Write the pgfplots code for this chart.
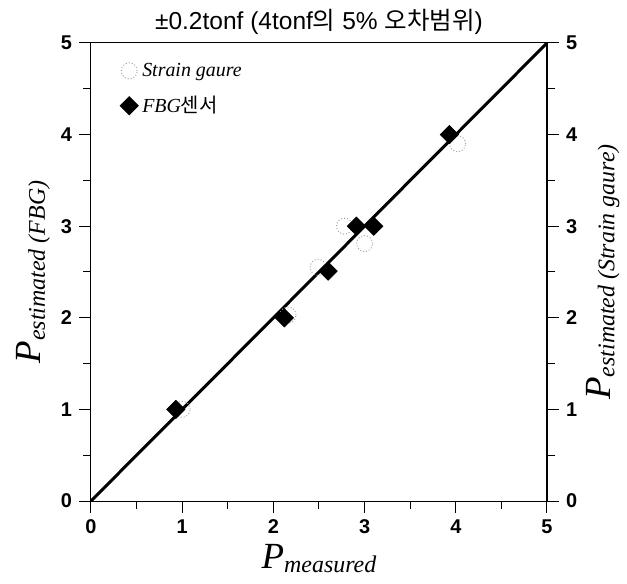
\documentclass[border=0pt]{standalone}
\usepackage{fontspec}
\setmainfont{Liberation Serif}
\setsansfont{Liberation Sans}
\newfontfamily\kr{Noto Sans CJK KR}
\usepackage{pgfplots}
\pgfplotsset{compat=1.18}
\usetikzlibrary{calc}

% data
\pgfplotstableread{
x    y
0.93 1.00
2.12 2.00
2.60 2.51
2.91 3.00
3.10 3.00
3.93 4.00
}\fbg
\pgfplotstableread{
x    y
1.00 1.00
2.16 2.03
2.49 2.55
2.78 3.00
3.00 2.81
4.02 3.90
}\strain

\newcommand{\Plab}[1]{{\fontsize{18.5}{18.5}\selectfont\itshape P}\raisebox{-0.45ex}{\fontsize{12}{12}\selectfont\itshape #1}}

\pgfplotsset{
  common/.style={
    scale only axis, width=228bp, height=229bp,
    xmin=0, xmax=5, ymin=0, ymax=5,
    xtick={0,...,5}, ytick={0,...,5},
    minor tick num=1,
    tick align=outside,
    major tick length=6bp, minor tick length=4bp,
    every tick/.style={black, line width=0.5bp},
    tick label style={font=\sffamily\bfseries\fontsize{10}{10}\selectfont},
    /pgf/number format/assume math mode=true,
    axis line style={line width=0.5bp},
  }
}

\begin{document}
\begin{tikzpicture}
\begin{axis}[
  common,
  name=ax,
  axis lines=box,
  xtick pos=bottom, ytick pos=left,
  clip=false,
  xlabel={\Plab{measured}},
  xlabel style={at={(axis description cs:0.5,0)}, anchor=north, yshift=-18bp},
  ylabel={\Plab{estimated (FBG)}},
  ylabel style={at={(axis description cs:0,0.5)}, anchor=south, yshift=17bp},
  legend style={draw=none, fill=none, at={(axis description cs:0.05,0.975)}, anchor=north west,
    font=\fontsize{10}{10}\selectfont\itshape, row sep=4.5bp,
    legend cell align=left},
  legend image code/.code={\draw[#1] plot coordinates {(0bp,0bp)};},
]
\addplot[only marks, mark=o, mark size=4bp, draw=black!35, mark options={densely dotted, line width=0.5bp}] table[x=x,y=y] {\strain};
\addlegendentry{Strain gaure}
\addplot[only marks, mark=square*, mark size=3.2bp, mark options={rotate=45, fill=black, draw=black}] table[x=x,y=y] {\fbg};
\addlegendentry{FBG{\kr\upshape 센서}}
\addplot[black, line width=1.5bp, forget plot] coordinates {(0,0) (5,5)};
\end{axis}
\begin{axis}[
  common,
  axis x line=none,
  axis y line*=right,
  ytick pos=right,
  ylabel={\Plab{estimated (Strain gaure)}},
  ylabel style={at={(axis description cs:1,0.5)}, anchor=north, yshift=-16bp},
]
\end{axis}
\node[font=\sffamily\fontsize{12.3}{12.3}\selectfont, anchor=base] at ($(ax.north)+(0,6.5bp)$) {±0.2tonf (4tonf{\kr 의} 5\% {\kr 오차범위})};
\pgfresetboundingbox
\path ($(ax.south west)+(-45.5bp,-41.5bp)$) rectangle ($(ax.south west)+(268bp,250.5bp)$);
\end{tikzpicture}
\end{document}
